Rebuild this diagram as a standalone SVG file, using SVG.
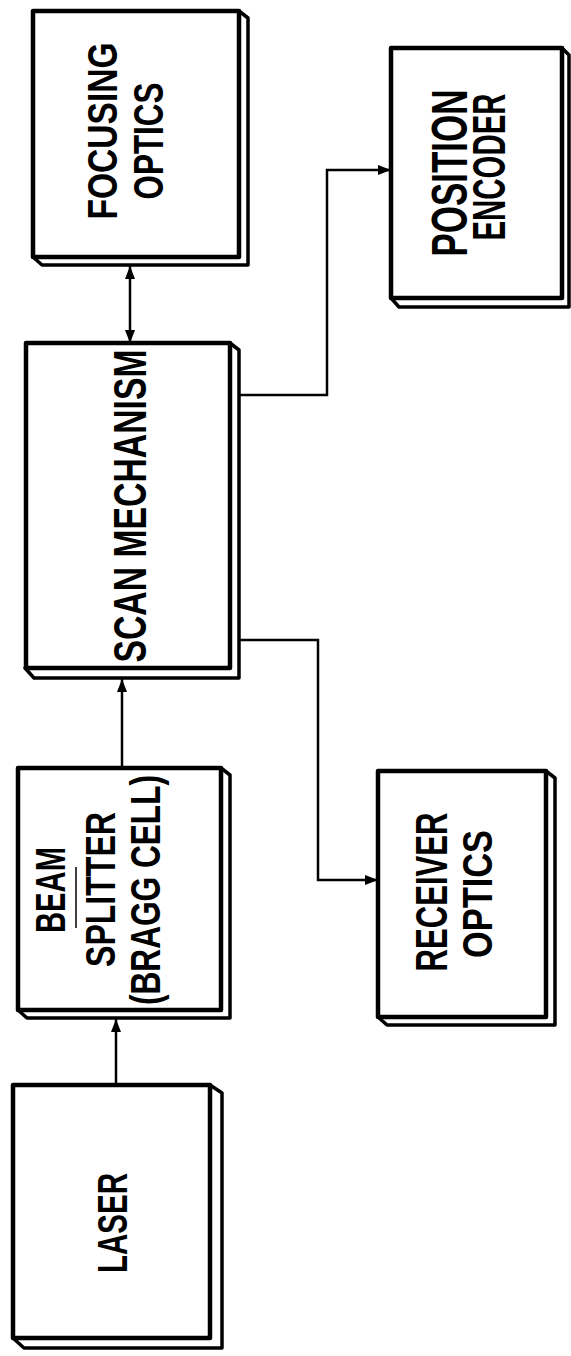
<svg xmlns="http://www.w3.org/2000/svg" width="571" height="1356" viewBox="0 0 571 1356">
<style>
.face{fill:#fff;stroke:#000;stroke-width:4.5;stroke-linejoin:round}
.ext{fill:#fff;stroke:#000;stroke-width:3.5;stroke-linejoin:round}
.lbl{font-family:"Liberation Sans",Arial,sans-serif;font-weight:bold;fill:#000;text-anchor:middle}
.conn{fill:none;stroke:#000;stroke-width:2.5}
</style>
<defs>
<marker id="ah" markerUnits="userSpaceOnUse" markerWidth="14" markerHeight="10" refX="13" refY="5" orient="auto-start-reverse">
<path d="M0,0 L13,5 L0,10 z" fill="#000"/>
</marker>
</defs>
<rect width="571" height="1356" fill="#fff"/>

<g id="laser">
<polygon class="ext" points="210,1085 222,1093 222,1348 24,1348 13,1338"/>
<rect class="face" x="13" y="1085" width="197" height="253"/>
<text class="lbl" font-size="42" textLength="100" lengthAdjust="spacingAndGlyphs" transform="translate(127,1223) rotate(-90)">LASER</text>
</g>

<g id="beam-splitter">
<polygon class="ext" points="221,768 230,775 230,1018 27,1018 18,1010"/>
<rect class="face" x="18" y="768" width="203" height="242"/>
<text class="lbl" font-size="42" textLength="86" lengthAdjust="spacingAndGlyphs" transform="translate(65,890) rotate(-90)">BEAM</text>
<line x1="76" y1="867" x2="76" y2="928" stroke="#000" stroke-width="1.5"/>
<text class="lbl" font-size="42" textLength="155" lengthAdjust="spacingAndGlyphs" transform="translate(115,889.5) rotate(-90)">SPLITTER</text>
<text class="lbl" font-size="42" textLength="230" lengthAdjust="spacingAndGlyphs" transform="translate(160,890) rotate(-90)">(BRAGG CELL)</text>
</g>

<g id="scan-mechanism">
<polygon class="ext" points="230,343 239,350 239,678 34,678 25,668"/>
<rect class="face" x="26" y="343" width="204" height="325"/>
<text class="lbl" font-size="46" textLength="313" lengthAdjust="spacingAndGlyphs" transform="translate(146,506) rotate(-90)">SCAN MECHANISM</text>
</g>

<g id="focusing-optics">
<polygon class="ext" points="239,11 248,18 248,265 42,265 33,257"/>
<rect class="face" x="33" y="11" width="206" height="246"/>
<text class="lbl" font-size="42" textLength="177" lengthAdjust="spacingAndGlyphs" transform="translate(117,131) rotate(-90)">FOCUSING</text>
<text class="lbl" font-size="42" textLength="117" lengthAdjust="spacingAndGlyphs" transform="translate(163,141) rotate(-90)">OPTICS</text>
</g>

<g id="position-encoder">
<polygon class="ext" points="562,48 569,55 569,307 399,307 391,298"/>
<rect class="face" x="391" y="48" width="171" height="250"/>
<text class="lbl" font-size="50" textLength="167" lengthAdjust="spacingAndGlyphs" transform="translate(467,173) rotate(-90)">POSITION</text>
<text class="lbl" font-size="46" textLength="147" lengthAdjust="spacingAndGlyphs" transform="translate(505,167) rotate(-90)">ENCODER</text>
</g>

<g id="receiver-optics">
<polygon class="ext" points="546,771 555,778 555,1025 387,1025 378,1017"/>
<rect class="face" x="378" y="771" width="168" height="246"/>
<text class="lbl" font-size="45" textLength="159" lengthAdjust="spacingAndGlyphs" transform="translate(447,892) rotate(-90)">RECEIVER</text>
<text class="lbl" font-size="42" textLength="128" lengthAdjust="spacingAndGlyphs" transform="translate(492,894) rotate(-90)">OPTICS</text>
</g>

<g id="connectors">
<line class="conn" x1="116" y1="1085" x2="116" y2="1019" marker-end="url(#ah)"/>
<line class="conn" x1="122" y1="768" x2="122" y2="679" marker-end="url(#ah)"/>
<line class="conn" x1="130" y1="266" x2="130" y2="343" marker-start="url(#ah)" marker-end="url(#ah)"/>
<polyline class="conn" points="239,395 327,395 327,170 391,170" marker-end="url(#ah)"/>
<polyline class="conn" points="239,640 318,640 318,880 378,880" marker-end="url(#ah)"/>
</g>
</svg>
